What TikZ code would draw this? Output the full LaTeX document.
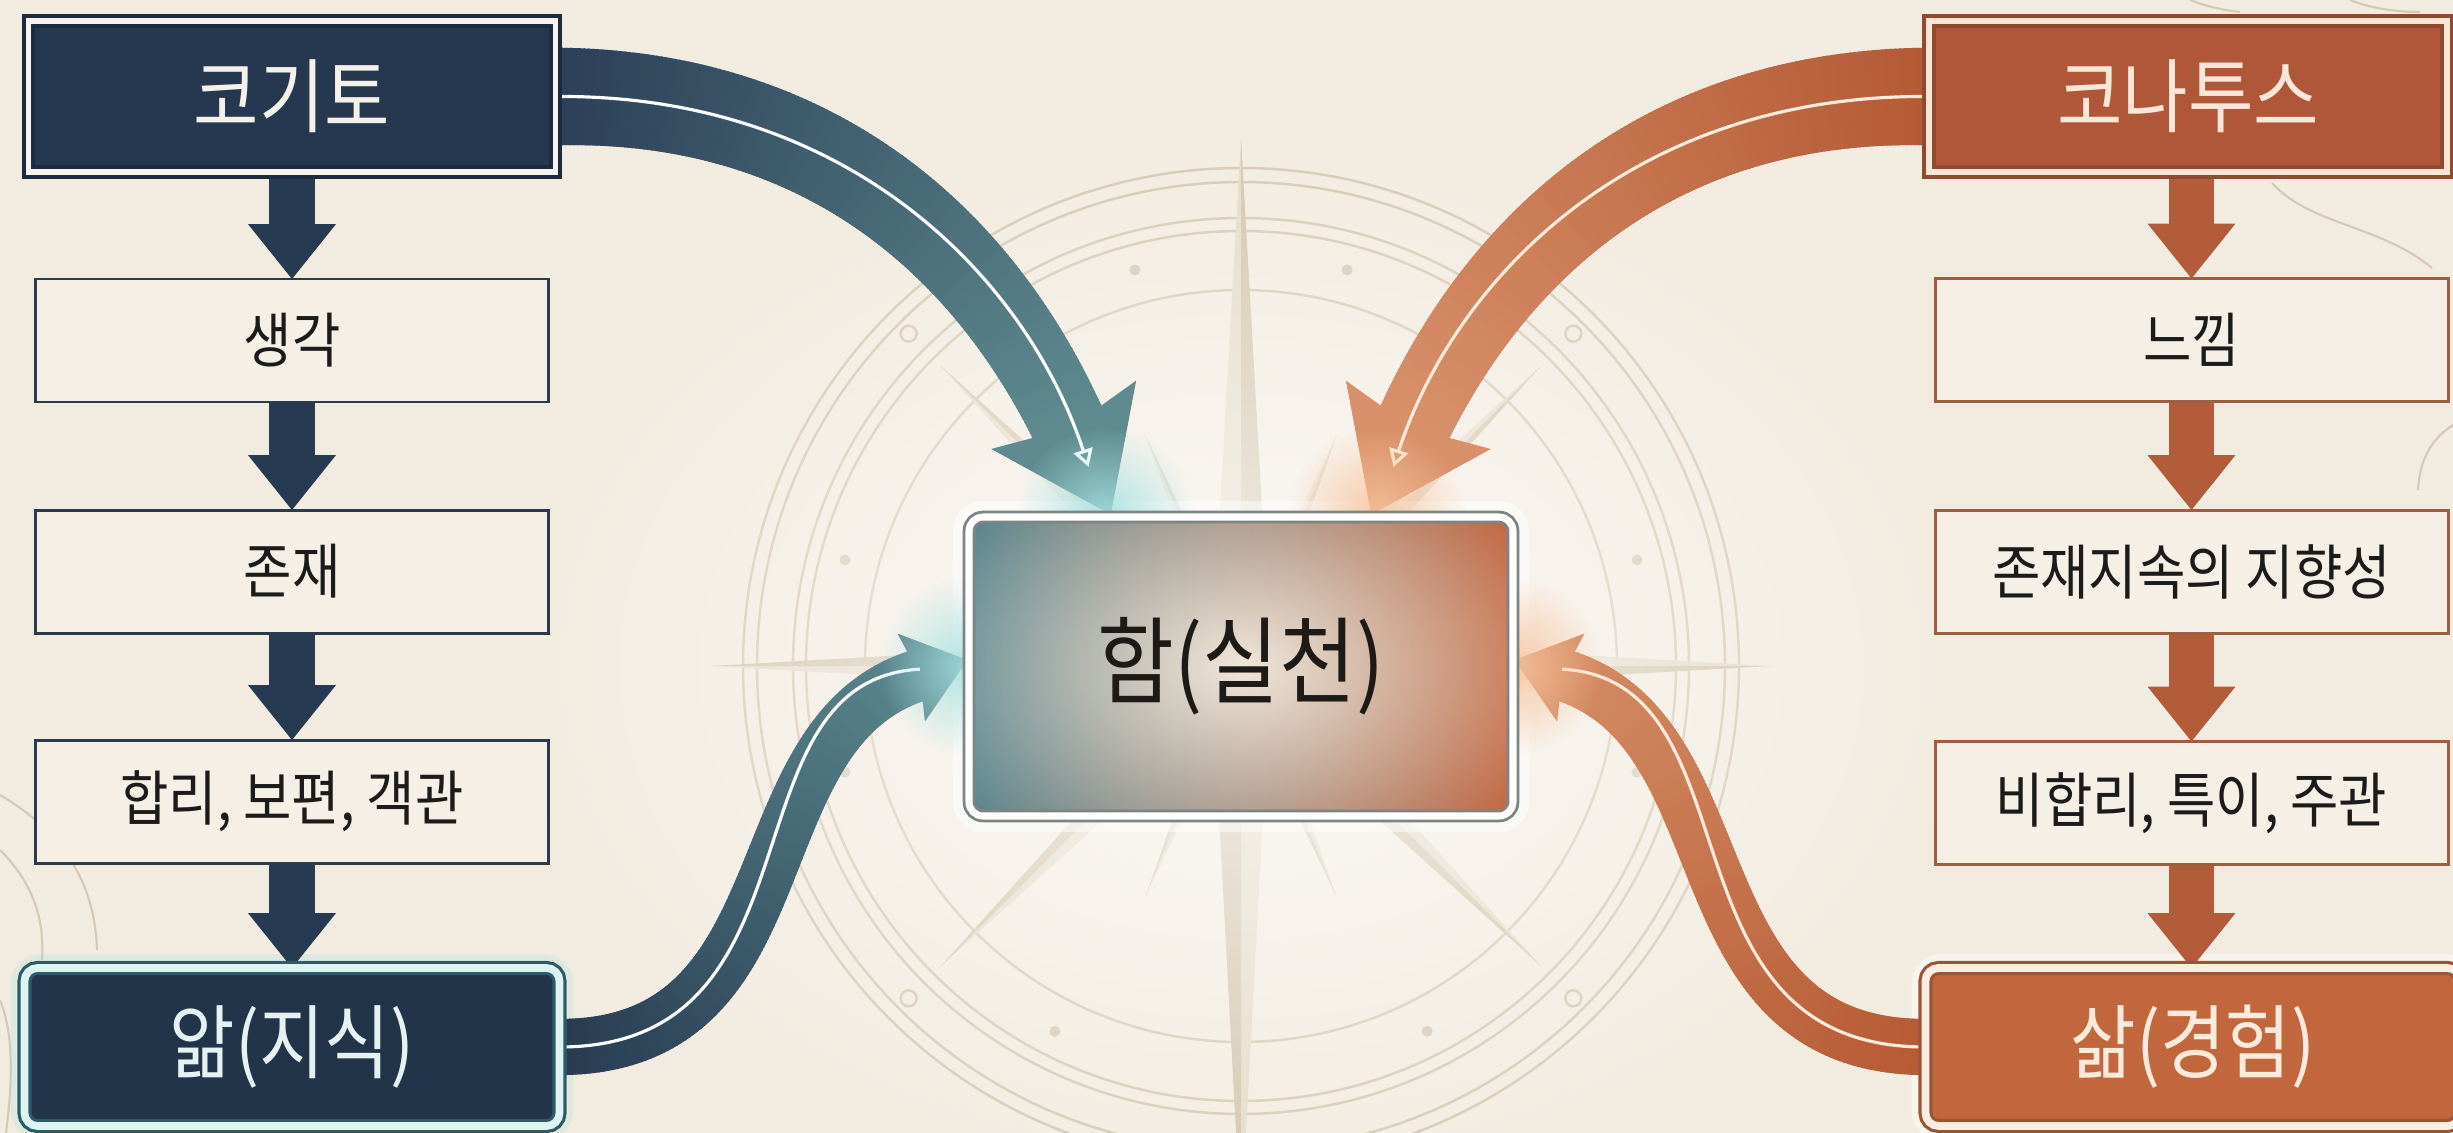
\documentclass[tikz,border=0pt]{standalone}
\usepackage{fontspec}
\newfontfamily\kr[FakeStretch=0.88]{Noto Sans CJK KR}
\usetikzlibrary{arrows.meta,decorations.markings,fadings,calc}
\pgfdeclarelayer{bg}
\pgfsetlayers{bg,main}

\definecolor{bgc}{HTML}{F2EBDF}
\definecolor{navyF}{HTML}{26384F}
\definecolor{navyL}{HTML}{1C2B3D}
\definecolor{navyA}{HTML}{263A52}
\definecolor{oraF}{HTML}{B0573A}
\definecolor{oraL}{HTML}{8F4A2F}
\definecolor{oraA}{HTML}{B35C3A}
\definecolor{boxF}{HTML}{F5EFE6}
\definecolor{boxLL}{HTML}{2B3A4C}
\definecolor{boxRL}{HTML}{9E5E42}
\definecolor{ink}{HTML}{1B1B1B}
\definecolor{hdrTL}{HTML}{F4F1EB}
\definecolor{hdrTR}{HTML}{FBE7D8}
\definecolor{bandW}{HTML}{F6F3EE}
\definecolor{bandO}{HTML}{FBE6D6}
\definecolor{knowIn}{HTML}{22344A}
\definecolor{knowOut}{HTML}{3B6673}
\definecolor{knowLine}{HTML}{2E5A66}
\definecolor{knowBand}{HTML}{DDF4F3}
\definecolor{knowTxt}{HTML}{E6F2F2}
\definecolor{lifeIn}{HTML}{C2663E}
\definecolor{lifeOut}{HTML}{A44F2E}
\definecolor{lifeLine}{HTML}{9A5536}
\definecolor{lifeBand}{HTML}{FCEDE0}
\definecolor{lifeTxt}{HTML}{FCEBDD}
\definecolor{pL}{HTML}{52818B}
\definecolor{pM}{HTML}{D6C8B0}
\definecolor{pR}{HTML}{C0613A}
\definecolor{pLine}{HTML}{7C8581}
\definecolor{pGlow}{HTML}{FBF3E6}
\definecolor{pTxt}{HTML}{1E1A17}
\definecolor{tlA}{HTML}{2B3F57}
\definecolor{tlB}{HTML}{5F8B90}
\definecolor{blA}{HTML}{283B51}
\definecolor{blB}{HTML}{5A878D}
\definecolor{trA}{HTML}{B45A35}
\definecolor{trB}{HTML}{D8916A}
\definecolor{brA}{HTML}{B65A35}
\definecolor{brB}{HTML}{D38B63}
\definecolor{cmpL}{HTML}{D6C9B3}
\definecolor{rayA}{HTML}{E4DAC6}
\definecolor{rayB}{HTML}{D2C4AA}
\definecolor{glowC}{HTML}{A6E1E2}
\definecolor{glowO}{HTML}{F7C39C}
\definecolor{wlineO}{HTML}{FDEBDD}

\pgfdeclareradialshading{knowvig}{\pgfpointorigin}{color(0bp)=(knowIn); color(36bp)=(knowIn); color(50bp)=(knowOut); color(75bp)=(knowOut)}
\pgfdeclareradialshading{lifevig}{\pgfpointorigin}{color(0bp)=(lifeIn); color(36bp)=(lifeIn); color(50bp)=(lifeOut); color(75bp)=(lifeOut)}
\tikzfading[name=glowfade, inner color=transparent!0, outer color=transparent!100]

\newcommand\bandset[7]{\def\bcA{#1}\def\bcB{#2}\def\bwA{#3}\def\bwB{#4}\def\bhl{#5}\def\bhh{#6}\def\bsb{#7}}

\tikzset{
  gband/.style={
    postaction={decorate, decoration={markings,
      mark=between positions 0 and 1 step 1.2pt with {%
        \pgfmathsetmacro\bd{\pgfkeysvalueof{/pgf/decoration/mark info/distance from start}}%
        \pgfmathsetmacro\bL{\pgfdecoratedpathlength-\bhl}%
        \ifdim\bd pt<\bL pt\relax
          \pgfmathsetmacro\bfr{\bd/\bL}%
          \pgfmathtruncatemacro\bpc{100*\bfr}%
          \pgfmathsetmacro\bhw{\bwA+(\bwB-\bwA)*\bfr}%
          \fill[\bcB!\bpc!\bcA] (-0.9pt,-\bhw pt) rectangle (0.9pt,\bhw pt);%
        \fi}}},
    postaction={decorate, decoration={markings,
      mark=at position -\bhl pt with {%
        \fill[\bcB] (-1.2pt,\bwB pt) -- (-\bsb pt,\bhh pt) -- (\bhl pt,0pt) -- (-\bsb pt,-\bhh pt) -- (-1.2pt,-\bwB pt) -- cycle;}}}
  }
}

\begin{document}
\begin{tikzpicture}[x=0.1mm,y=-0.1mm,font=\kr,
  hdrL/.style={draw=navyL, line width=1.2pt, double=bandW, double distance=1.5pt, fill=navyF, text=hdrTL,
    minimum width=52.7mm, minimum height=15.1mm, inner sep=0pt, outer sep=0pt, font=\kr\fontsize{23}{26}\selectfont},
  hdrR/.style={hdrL, draw=oraL, double=bandO, fill=oraF, text=hdrTR, minimum width=51.8mm},
  boxL/.style={draw=boxLL, line width=0.85pt, fill=boxF, text=ink, minimum width=51.3mm, minimum height=12.3mm,
    inner sep=0pt, outer sep=0pt, font=\kr\fontsize{17}{20}\selectfont},
  boxR/.style={boxL, draw=boxRL},
  knowbox/.style={draw=knowLine, line width=0.9pt, double=knowBand, double distance=2.2pt, rounded corners=1.3mm,
    shade, shading=knowvig, text=knowTxt, minimum width=53.5mm, minimum height=15.8mm, inner sep=0pt, outer sep=0pt,
    font=\kr\fontsize{23}{26}\selectfont},
  lifebox/.style={knowbox, draw=lifeLine, double=lifeBand, shading=lifevig, text=lifeTxt},
  praxbox/.style={draw=pLine, line width=0.8pt, double=white, double distance=2pt, rounded corners=1.4mm,
    left color=pL, middle color=pM, right color=pR, text=pTxt, minimum width=54.4mm, minimum height=29.9mm,
    inner sep=0pt, outer sep=0pt, font=\kr\fontsize{27}{30}\selectfont,
    path picture={\fill[pGlow, path fading=glowfade, fill opacity=0.9] (path picture bounding box.center) ellipse [x radius=36mm, y radius=24mm];}},
  dnL/.style={draw=navyA, line width=13pt, -{Triangle[length=15.6pt, width=25pt, line width=0pt]}},
  dnR/.style={dnL, draw=oraA},
  wlineL/.style={draw=white, line width=0.9pt},
  wlineR/.style={draw=wlineO, line width=0.9pt},
  cline/.style={draw=cmpL, line width=0.7pt},
  contour/.style={draw=cmpL, line width=0.6pt}
]
\useasboundingbox (0,0) rectangle (2453,1133);

% ---------- nodes ----------
\node[hdrL] (cogito) at (292,96.5) {코기토};
\node[boxL] (think) at (292,340.5) {생각};
\node[boxL] (exist) at (292,571.5) {존재};
\node[boxL] (rational) at (292,801.5) {합리, 보편, 객관};
\node[knowbox] (know) at (292,1047) {앎(지식)};

\node[hdrR] (conatus) at (2188,96.5) {코나투스};
\node[boxR] (feel) at (2191.5,340) {느낌};
\node[boxR] (persist) at (2191.5,571.5) {존재지속의 지향성};
\node[boxR] (irrational) at (2191.5,803) {비합리, 특이, 주관};
\node[lifebox] (life) at (2193,1047) {삶(경험)};

\node[praxbox] (praxis) at (1241,666.5) {함(실천)};

\coordinate (tipTL) at ($(praxis.north west)!0.25!(praxis.north east)$);
\coordinate (tipTR) at ($(praxis.north west)!0.75!(praxis.north east)$);

\begin{pgfonlayer}{bg}
\fill[bgc] (0,0) rectangle (2453,1133);

% faint contour lines
\draw[contour] (0,850) .. controls (30,880) and (45,915) .. (42,960);
\draw[contour] (0,795) .. controls (60,830) and (95,880) .. (97,950);
\draw[contour] (0,1000) .. controls (12,1030) and (14,1070) .. (6,1133);
\draw[contour] (2272,183) .. controls (2310,225) and (2380,225) .. (2432,268);
\draw[contour] (2453,425) .. controls (2430,440) and (2420,460) .. (2418,490);
\draw[contour] (2190,0) .. controls (2205,6) and (2222,10) .. (2240,12);
\draw[contour] (2350,0) .. controls (2370,8) and (2395,12) .. (2420,12);

% compass rose
\begin{scope}[shift={(1241,666)}, y=0.1mm]
  \foreach \r in {49.8,48.4,44.8,43.5,37.6}{\draw[cline] (0,0) circle [radius=\r mm];}
  \foreach \a in {15,75,105,165,195,243,297,345}{\fill[cmpL] (\a:410) circle [radius=0.55mm];}
  \foreach \a in {45,135,225,315}{\draw[cline] (\a:470) circle [radius=0.8mm];}
  \foreach \a/\L/\w in {22.5/250/14,67.5/250/14,112.5/250/14,157.5/250/14,202.5/250/14,247.5/250/14,292.5/250/14,337.5/250/14,
                        45/425/22,135/425/22,225/425/22,315/425/22,
                        90/528/30,270/560/30,0/530/30,180/530/30}{
    \fill[rayA, fill opacity=0.95] (0,0) -- ({\a+90}:\w) -- (\a:\L) -- cycle;
    \fill[rayB, fill opacity=0.95] (0,0) -- ({\a-90}:\w) -- (\a:\L) -- cycle;
  }
\end{scope}

% glows
\fill[white, path fading=glowfade, fill opacity=0.75] (praxis.center) ellipse [x radius=78mm, y radius=56mm];
\fill[glowC, fill opacity=0.25, rounded corners=3mm] ($(know.north west)+(-14,-14)$) rectangle ($(know.south east)+(14,14)$);
\fill[white, fill opacity=0.35, rounded corners=2.5mm] ($(know.north west)+(-8,-8)$) rectangle ($(know.south east)+(8,8)$);
\fill[white, fill opacity=0.45, rounded corners=3mm] ($(life.north west)+(-14,-14)$) rectangle ($(life.south east)+(14,14)$);
\fill[white, fill opacity=0.5, rounded corners=3mm] ($(praxis.north west)+(-16,-16)$) rectangle ($(praxis.south east)+(16,16)$);

% down arrows
\draw[dnL] (cogito.south) -- (think.north);
\draw[dnL] (think.south) -- (exist.north);
\draw[dnL] (exist.south) -- (rational.north);
\draw[dnL] (rational.south) -- (know.north);
\draw[dnR] (feel.north |- conatus.south) -- (feel.north);
\draw[dnR] (feel.south) -- (persist.north);
\draw[dnR] (persist.south) -- (irrational.north);
\draw[dnR] (irrational.south) -- (irrational.south |- life.north);

% curved gradient arrows
\bandset{tlA}{tlB}{13.9}{10.8}{28}{22.8}{3.4}
\path[gband] (cogito.east) .. controls (850,94) and (1027,279) .. (tipTL);
\bandset{trA}{trB}{13.9}{10.8}{28}{22.8}{3.4}
\path[gband] (conatus.west) .. controls (1632,94) and (1455,279) .. (tipTR);
\bandset{blA}{blB}{8}{7.4}{14.5}{13.1}{2.3}
\path[gband] (know.east) .. controls (830,1047) and (720,680) .. (praxis.west);
\bandset{brA}{brB}{8}{7.4}{14.5}{13.1}{2.3}
\path[gband] (life.west) .. controls (1652,1047) and (1762,680) .. (praxis.east);

% white centre lines
\draw[wlineL, shorten >=15pt, -{Triangle[open, length=5pt, width=5.5pt]}] (cogito.east) .. controls (850,94) and (1027,279) .. (tipTL);
\draw[wlineR, shorten >=15pt, -{Triangle[open, length=5pt, width=5.5pt]}] (conatus.west) .. controls (1632,94) and (1455,279) .. (tipTR);
\draw[wlineL, shorten >=14pt] (know.east) .. controls (830,1047) and (720,680) .. (praxis.west);
\draw[wlineR, shorten >=14pt] (life.west) .. controls (1652,1047) and (1762,680) .. (praxis.east);

% tip glows
\fill[glowC, path fading=glowfade, fill opacity=0.9] (tipTL) circle [radius=9mm];
\fill[glowC, path fading=glowfade, fill opacity=0.9] (praxis.west) circle [radius=9mm];
\fill[glowO, path fading=glowfade, fill opacity=0.9] (tipTR) circle [radius=9mm];
\fill[glowO, path fading=glowfade, fill opacity=0.9] (praxis.east) circle [radius=9mm];
\end{pgfonlayer}
\end{tikzpicture}
\end{document}
